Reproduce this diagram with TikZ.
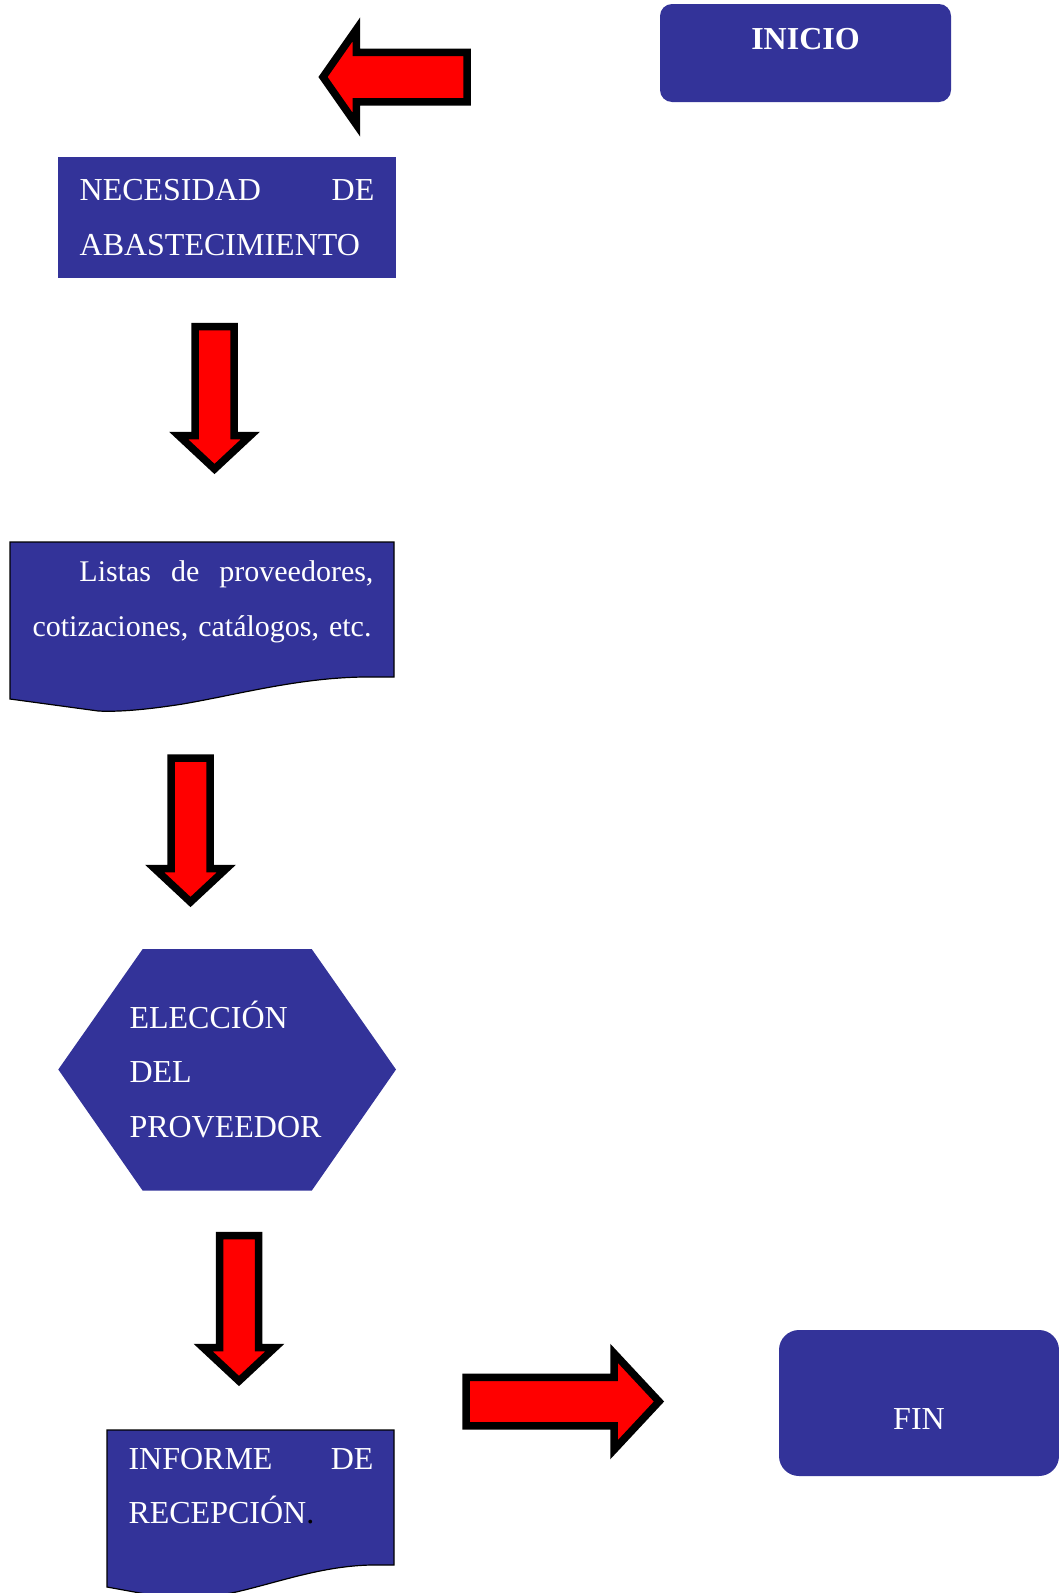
\documentclass[tikz,border=0pt]{standalone}
\usepackage{fontspec}
\setmainfont{Liberation Serif}
\usetikzlibrary{shapes.arrows}
\definecolor{azul}{RGB}{51,51,153}
\tikzset{
  caja/.style={fill=azul,text=white,inner sep=0pt,font=\fontsize{32}{54.5}\selectfont},
  terminal/.style={caja,rounded corners=#1},
  terminal/.default=12pt,
  texto/.style={text=white,inner sep=0pt,align=left,anchor=base west,
    font=\fontsize{32}{54.5}\selectfont},
  flecha/.style={single arrow,fill=red,draw=black,line width=7.5pt,inner sep=15.75pt,outer sep=0pt,
    single arrow head indent=0pt,single arrow tip angle=94,single arrow head extend=16.25pt},
  % hoja con borde ondulado
  pics/documento/.style={code={
    \filldraw[fill=azul,draw=black,line width=1.2pt] (0,0) -- (#1,0) -- (#1,135) -- ({0.92*#1},135)
      .. controls ({0.75*#1},136) and ({0.6*#1},152) .. ({0.45*#1},162)
      .. controls ({0.35*#1},168) and ({0.28*#1},170) .. ({0.23*#1},169) -- (0,157) -- cycle;
  }},
}

\begin{document}
\begin{tikzpicture}[x=1pt,y=-1pt]
  \useasboundingbox (0,0) rectangle (1059,1593);
  % inicio y fin
  \node[terminal,minimum width=291pt,minimum height=98pt,font=\fontsize{32}{38}\selectfont\bfseries,
    text height=22pt,text depth=29.2pt] (inicio) at (805.5,53) {INICIO};
  \node[terminal=20pt,minimum width=280pt,minimum height=146pt,text height=53.2pt,text depth=0pt]
    (fin) at (919,1403) {FIN};
  % pasos
  \node[caja,minimum width=338pt,minimum height=121.6pt,text width=294.7pt,align=left]
    (necesidad) at (227,217.5) {NECESIDAD\hfill DE\\ABASTECIMIENTO};
  \pic at (10,542) {documento=384};
  \node[texto,text width=341pt,font=\fontsize{30}{55}\selectfont] (listas) at (32.3,581)
    {\hspace*{47pt}Listas\hfill de\hfill proveedores,\\cotizaciones, catálogos, etc.};
  \fill[azul] (58.3,1069.5) -- (142.7,949) -- (311.7,949) -- (396,1069.5) -- (311.7,1190.7)
    -- (142.7,1190.7) -- cycle;
  \node[texto,text width=220pt] (eleccion) at (129.3,1028) {ELECCIÓN\\DEL\\PROVEEDOR};
  \pic at (107,1430) {documento=287};
  \node[texto,text width=245pt] (informe) at (128.3,1469.3) {INFORME\hfill DE\\RECEPCIÓN{\color{black}.}};
  % flechas
  \node[flecha,shape border rotate=180,minimum height=144pt,inner sep=21pt,
    single arrow head extend=23pt,single arrow tip angle=110,anchor=tip] (izq) at (323,77) {};
  \foreach \x/\y/\largo [count=\i] in {214.5/469/142.5,190.5/902/144,239/1381/145.5}
    \node[flecha,shape border rotate=270,minimum height=\largo pt,anchor=tip] (abajo\i) at (\x,\y) {};
  \node[flecha,minimum height=193pt,inner sep=20.5pt,single arrow head extend=24pt,
    anchor=tip] (der) at (659,1401.5) {};
\end{tikzpicture}
\end{document}
